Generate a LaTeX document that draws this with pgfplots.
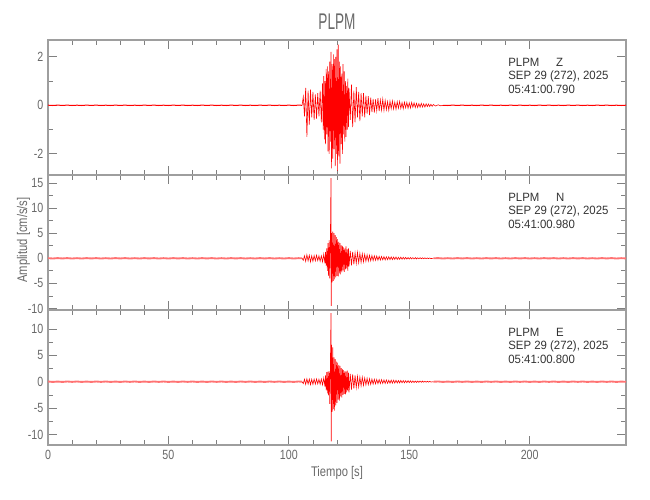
\documentclass[border=0pt]{standalone}
\usepackage{fontspec}
\setmainfont{Liberation Sans}
\newfontfamily\tickf{Liberation Sans}[FakeStretch=0.8]
\newfontfamily\labf{Liberation Sans}[FakeStretch=0.8]
\newfontfamily\titf{Liberation Sans}[FakeStretch=0.6]
\newfontfamily\annf{Liberation Sans}[FakeStretch=0.95]
\usepackage{pgfplots}
\pgfplotsset{compat=1.18}
\definecolor{txtgray}{RGB}{105,105,105}
\pgfplotsset{
  seis/.style={
    anchor=south west, scale only axis, width=433.5pt, height=101.25pt,
    xmin=0, xmax=240, xtick={0,50,...,200}, minor x tick num=4,
    minor y tick num=1,
    axis line style={draw=black!38, line width=1.1pt},
    every tick/.style={draw=black!50, line width=0.6pt},
    major tick length=7pt, minor tick length=4pt,
    ticklabel style={text=txtgray, font=\tickf\fontsize{10}{11}\selectfont},
    /pgf/number format/assume math mode=true,
    xticklabel pos=bottom, yticklabel pos=left,
    clip=true,
  },
  trace/.style={red, line width=0.45pt, mark=none},
  noiseZ/.style={red, line width=0.75pt, mark=none},
  noiseNE/.style={red!55, line width=1.4pt, mark=none},
}
\tikzset{ann/.style={anchor=base west, text=black!80, font=\annf\fontsize{9}{10}\selectfont, inner sep=0pt}}
\begin{document}
\begin{tikzpicture}
\path[use as bounding box] (0,0) rectangle (487.5pt,375pt);
% ---------------- Z ----------------
\begin{axis}[seis, at={(36pt,243.75pt)}, ymin=-2.87, ymax=2.69, ytick={-2,0,2}, xticklabels={}]
\addplot[noiseZ] coordinates {
(0,0.005)(2,-0.008)(4,0.008)(6,-0.005)(8,0.008)(10,-0.008)(12,0.005)(14,-0.008)(16,0.008)(18,-0.005)(20,0.008)(22,-0.008)(24,0.005)(26,-0.008)(28,0.008)(30,-0.005)(32,0.008)(34,-0.008)(36,0.005)(38,-0.008)(40,0.008)(42,-0.005)(44,0.008)(46,-0.008)(48,0.005)(50,-0.008)(52,0.008)(54,-0.005)(56,0.008)(58,-0.008)(60,0.005)(62,-0.008)(64,0.008)(66,-0.005)(68,0.008)(70,-0.008)(72,0.005)(74,-0.008)(76,0.008)(78,-0.005)(80,0.008)(82,-0.008)(84,0.005)(86,-0.008)(88,0.008)(90,-0.005)(92,0.008)(94,-0.008)(96,0.005)(98,-0.008)(100,0.008)(102,-0.008)(104,0.008)(105.5,0.0)
};
\addplot[trace] coordinates {
(105.5,0.0)(106,0.35)(106.5,-0.45)(107,0.72)(107.5,-1.3)(108,0.6)(108.5,-0.8)(109,0.65)(109.5,-0.5)(110,0.55)(110.5,-0.6)(111,0.45)(111.5,-0.55)(112,0.5)(112.5,-0.45)(113,0.6)(113.5,-0.7)(114,0.9)(114.25,-1.0)(114.5,1.2)(114.75,-1.4)(115,1.0)(115.25,-1.6)(115.5,1.5)(115.75,-1.2)(116,1.6)(116.25,-1.9)(116.5,1.4)(116.75,-2.0)(117,1.8)(117.25,-1.5)(117.5,2.2)(117.75,-2.6)(118,1.7)(118.25,-2.2)(118.5,2.1)(118.75,-1.8)(119,1.9)(119.25,-2.5)(119.5,2.0)(119.75,-2.0)(120,2.3)(120.25,-2.7)(120.5,2.5)(120.75,-2.1)(121,1.8)(121.25,-2.4)(121.5,1.6)(121.75,-1.6)(122,1.3)(122.25,-2.0)(122.5,1.7)(122.75,-1.2)(123,1.4)(123.25,-1.5)(123.5,1.0)(123.75,-1.3)(124,0.8)(124.25,-1.0)(124.5,1.1)(124.75,-0.9)(125,0.7)(125.5,-0.6)(126,0.85)(126.5,-0.9)(127,0.6)(127.5,-0.7)(128,0.75)(128.5,-0.5)(129,0.55)(129.5,-0.65)(130,0.5)(130.5,-0.45)(131,0.5)(131.5,-0.5)(132,0.4)(132.5,-0.35)(133,0.38)(133.5,-0.4)(134,0.32)(134.5,-0.28)(135,0.26)(135.5,-0.3)(136,0.24)(136.5,-0.22)(137,0.3)(137.5,-0.24)(138,0.22)(138.5,-0.2)(139,0.25)(139.5,-0.21)(140,0.2)(140.5,-0.18)(141,0.15)(141.5,-0.2)(142,0.17)(142.5,-0.14)(143,0.18)(143.5,-0.15)(144,0.13)(144.5,-0.16)(145,0.15)(145.5,-0.12)(146,0.16)(146.5,-0.13)(147,0.11)(147.5,-0.14)(148,0.13)(148.5,-0.1)(149,0.12)(149.5,-0.12)(150,0.1)(150.5,-0.11)(151,0.12)(151.5,-0.08)(152,0.1)(152.5,-0.09)(153,0.08)(153.5,-0.09)(154,0.07)(154.5,-0.08)(155,0.08)(155.5,-0.07)(156,0.06)(156.5,-0.07)(157,0.06)(157.5,-0.05)(158,0.05)(158.5,-0.05)(159,0.04)(159.5,-0.04)(160,0.03)(161,-0.03)(162,0.02)(163,-0.02)(164,0.0)
};
\addplot[noiseZ] coordinates {
(164,0.0)(166,-0.008)(168,0.008)(170,-0.005)(172,0.008)(174,-0.008)(176,0.005)(178,-0.008)(180,0.008)(182,-0.005)(184,0.008)(186,-0.008)(188,0.005)(190,-0.008)(192,0.008)(194,-0.005)(196,0.008)(198,-0.008)(200,0.005)(202,-0.008)(204,0.008)(206,-0.005)(208,0.008)(210,-0.008)(212,0.005)(214,-0.008)(216,0.008)(218,-0.005)(220,0.008)(222,-0.008)(224,0.005)(226,-0.008)(228,0.008)(230,-0.005)(232,0.008)(234,-0.008)(236,0.005)(238,-0.008)(240,0.005)
};
\node[ann] at (rel axis cs:0.796,0.807) {PLPM\hspace{1.4em}Z};
\node[ann] at (rel axis cs:0.796,0.704) {SEP 29 (272), 2025};
\node[ann] at (rel axis cs:0.796,0.600) {05:41:00.790};
\end{axis}
% ---------------- N ----------------
\begin{axis}[seis, at={(36pt,142.5pt)}, ymin=-10.3, ymax=16.6, ytick={-10,-5,...,15}, xticklabels={}]
\addplot[noiseNE] coordinates {
(0,0.03)(2,-0.04)(4,0.04)(6,-0.03)(8,0.04)(10,-0.04)(12,0.03)(14,-0.04)(16,0.04)(18,-0.03)(20,0.04)(22,-0.04)(24,0.03)(26,-0.04)(28,0.04)(30,-0.03)(32,0.04)(34,-0.04)(36,0.03)(38,-0.04)(40,0.04)(42,-0.03)(44,0.04)(46,-0.04)(48,0.03)(50,-0.04)(52,0.04)(54,-0.03)(56,0.04)(58,-0.04)(60,0.03)(62,-0.04)(64,0.04)(66,-0.03)(68,0.04)(70,-0.04)(72,0.03)(74,-0.04)(76,0.04)(78,-0.03)(80,0.04)(82,-0.04)(84,0.03)(86,-0.04)(88,0.04)(90,-0.03)(92,0.04)(94,-0.04)(96,0.03)(98,-0.04)(100,0.04)(102,-0.04)(104,0.03)(105.5,0.0)
};
\addplot[trace] coordinates {
(105.5,0.0)(106,-0.4)(106.5,0.5)(107,-0.6)(107.5,0.7)(108,-0.5)(108.5,0.6)(109,-0.7)(109.5,0.5)(110,-0.6)(110.5,0.55)(111,-0.5)(111.5,0.6)(112,-0.45)(112.5,0.5)(113,-0.6)(113.5,0.5)(114,-0.7)(114.5,0.8)(115,-1.0)(115.25,1.3)(115.5,-1.5)(115.75,2.0)(116,-2.5)(116.25,3.0)(116.5,-3.5)(116.75,3.6)(117,-4.0)(117.25,3.2)(117.5,16.0)(117.6,-9.5)(117.75,5.0)(118,-4.8)(118.25,5.3)(118.5,-4.5)(118.75,5.0)(119,-4.2)(119.25,4.6)(119.5,-3.8)(119.75,4.2)(120,-3.5)(120.25,3.8)(120.5,-3.6)(120.75,3.3)(121,-3.0)(121.25,3.0)(121.5,-3.2)(121.75,2.6)(122,-2.8)(122.25,2.5)(122.5,-2.4)(122.75,2.2)(123,-2.7)(123.25,2.0)(123.5,-2.2)(123.75,2.4)(124,-2.0)(124.25,1.8)(124.5,-2.5)(124.75,2.0)(125,-1.6)(125.5,1.5)(126,-1.4)(126.5,1.3)(127,-1.2)(127.5,1.1)(128,-1.0)(128.5,1.2)(129,-0.9)(129.5,1.0)(130,-0.8)(130.5,0.9)(131,-0.7)(131.5,0.8)(132,-0.6)(132.5,0.7)(133,-0.55)(133.5,0.6)(134,-0.5)(134.5,0.55)(135,-0.45)(135.5,0.5)(136,-0.4)(136.5,0.45)(137,-0.38)(137.5,0.4)(138,-0.35)(138.5,0.36)(139,-0.3)(139.5,0.34)(140,-0.32)(140.5,0.3)(141,-0.27)(141.5,0.3)(142,-0.26)(142.5,0.28)(143,-0.25)(143.5,0.24)(144,-0.22)(144.5,0.25)(145,-0.22)(145.5,0.2)(146,-0.2)(146.5,0.22)(147,-0.18)(147.5,0.2)(148,-0.17)(148.5,0.18)(149,-0.16)(149.5,0.15)(150,-0.15)(150.5,0.16)(151,-0.13)(151.5,0.14)(152,-0.12)(152.5,0.13)(153,-0.12)(153.5,0.11)(154,-0.1)(154.5,0.11)(155,-0.09)(155.5,0.1)(156,-0.08)(156.5,0.09)(157,-0.08)(157.5,0.07)(158,-0.06)(158.5,0.06)(159,-0.05)(160,0.0)
};
\addplot[noiseNE] coordinates {
(160,0.0)(162,0.04)(164,-0.04)(166,0.03)(168,-0.04)(170,0.04)(172,-0.03)(174,0.04)(176,-0.04)(178,0.03)(180,-0.04)(182,0.04)(184,-0.03)(186,0.04)(188,-0.04)(190,0.03)(192,-0.04)(194,0.04)(196,-0.03)(198,0.04)(200,-0.04)(202,0.03)(204,-0.04)(206,0.04)(208,-0.03)(210,0.04)(212,-0.04)(214,0.03)(216,-0.04)(218,0.04)(220,-0.03)(222,0.04)(224,-0.04)(226,0.03)(228,-0.04)(230,0.04)(232,-0.03)(234,0.04)(236,-0.04)(238,0.03)(240,-0.02)
};
\node[ann] at (rel axis cs:0.796,0.807) {PLPM\hspace{1.4em}N};
\node[ann] at (rel axis cs:0.796,0.704) {SEP 29 (272), 2025};
\node[ann] at (rel axis cs:0.796,0.600) {05:41:00.980};
\end{axis}
% ---------------- E ----------------
\begin{axis}[seis, at={(36pt,41.25pt)}, ymin=-12.0, ymax=13.6, ytick={-10,-5,...,10}]
\addplot[noiseNE] coordinates {
(0,0.04)(2,-0.04)(4,0.03)(6,-0.04)(8,0.04)(10,-0.03)(12,0.04)(14,-0.04)(16,0.03)(18,-0.04)(20,0.04)(22,-0.03)(24,0.04)(26,-0.04)(28,0.03)(30,-0.04)(32,0.04)(34,-0.03)(36,0.04)(38,-0.04)(40,0.03)(42,-0.04)(44,0.04)(46,-0.03)(48,0.04)(50,-0.04)(52,0.03)(54,-0.04)(56,0.04)(58,-0.03)(60,0.04)(62,-0.04)(64,0.03)(66,-0.04)(68,0.04)(70,-0.03)(72,0.04)(74,-0.04)(76,0.03)(78,-0.04)(80,0.04)(82,-0.03)(84,0.04)(86,-0.04)(88,0.03)(90,-0.04)(92,0.04)(94,-0.03)(96,0.04)(98,-0.04)(100,0.03)(102,-0.04)(104,0.04)(105.5,0.0)
};
\addplot[trace] coordinates {
(105.5,0.0)(106,-0.35)(106.5,0.45)(107,-0.5)(107.5,0.55)(108,-0.45)(108.5,0.5)(109,-0.55)(109.5,0.45)(110,-0.5)(110.5,0.5)(111,-0.45)(111.5,0.5)(112,-0.4)(112.5,0.45)(113,-0.5)(113.5,0.5)(114,-0.6)(114.5,0.7)(115,-0.9)(115.25,1.2)(115.5,-1.6)(115.75,1.8)(116,-2.2)(116.25,1.9)(116.5,-2.6)(116.75,2.0)(117,-4.2)(117.25,2.5)(117.5,13.0)(117.6,-11.3)(117.75,7.0)(118,-5.7)(118.25,6.5)(118.5,-5.2)(118.75,4.6)(119,-5.5)(119.25,4.3)(119.5,-4.5)(119.75,3.8)(120,-4.0)(120.25,3.6)(120.5,-3.4)(120.75,3.2)(121,-3.6)(121.25,3.0)(121.5,-2.8)(121.75,2.6)(122,-3.0)(122.25,2.4)(122.5,-2.5)(122.75,2.2)(123,-2.3)(123.25,2.0)(123.5,-2.4)(123.75,1.9)(124,-2.0)(124.25,2.1)(124.5,-1.8)(124.75,1.7)(125,-2.0)(125.5,1.5)(126,-1.5)(126.5,1.4)(127,-1.3)(127.5,1.2)(128,-1.1)(128.5,1.0)(129,-1.0)(129.5,0.9)(130,-0.8)(130.5,0.85)(131,-0.7)(131.5,0.7)(132,-0.6)(132.5,0.65)(133,-0.55)(133.5,0.55)(134,-0.5)(134.5,0.5)(135,-0.45)(135.5,0.45)(136,-0.4)(136.5,0.42)(137,-0.37)(137.5,0.4)(138,-0.34)(138.5,0.38)(139,-0.33)(139.5,0.35)(140,-0.31)(140.5,0.33)(141,-0.3)(141.5,0.28)(142,-0.29)(142.5,0.3)(143,-0.26)(143.5,0.28)(144,-0.25)(144.5,0.26)(145,-0.24)(145.5,0.23)(146,-0.22)(146.5,0.23)(147,-0.2)(147.5,0.21)(148,-0.2)(148.5,0.19)(149,-0.18)(149.5,0.19)(150,-0.17)(150.5,0.17)(151,-0.16)(151.5,0.15)(152,-0.15)(152.5,0.14)(153,-0.14)(153.5,0.13)(154,-0.12)(154.5,0.13)(155,-0.11)(155.5,0.11)(156,-0.1)(156.5,0.1)(157,-0.09)(157.5,0.09)(158,-0.08)(158.5,0.07)(159,-0.06)(160,0.0)
};
\addplot[noiseNE] coordinates {
(160,0.0)(162,0.04)(164,-0.04)(166,0.03)(168,-0.04)(170,0.04)(172,-0.03)(174,0.04)(176,-0.04)(178,0.03)(180,-0.04)(182,0.04)(184,-0.03)(186,0.04)(188,-0.04)(190,0.03)(192,-0.04)(194,0.04)(196,-0.03)(198,0.04)(200,-0.04)(202,0.03)(204,-0.04)(206,0.04)(208,-0.03)(210,0.04)(212,-0.04)(214,0.03)(216,-0.04)(218,0.04)(220,-0.03)(222,0.04)(224,-0.04)(226,0.03)(228,-0.04)(230,0.04)(232,-0.03)(234,0.04)(236,-0.04)(238,0.03)(240,-0.02)
};
\node[ann] at (rel axis cs:0.796,0.807) {PLPM\hspace{1.4em}E};
\node[ann] at (rel axis cs:0.796,0.704) {SEP 29 (272), 2025};
\node[ann] at (rel axis cs:0.796,0.600) {05:41:00.800};
\end{axis}
% ---------------- labels ----------------
\node[anchor=base, text=txtgray, font=\titf\fontsize{17}{18}\selectfont, inner sep=0pt] at (252.75pt,352.5pt) {PLPM};
\node[anchor=base, text=txtgray, font=\labf\fontsize{10.5}{12}\selectfont, inner sep=0pt] at (252.75pt,17.25pt) {Tiempo [s]};
\node[anchor=base, rotate=90, text=txtgray, font=\labf\fontsize{10.5}{12}\selectfont, inner sep=0pt] at (20.25pt,195pt) {Amplitud [cm/s/s]};
\end{tikzpicture}
\end{document}
